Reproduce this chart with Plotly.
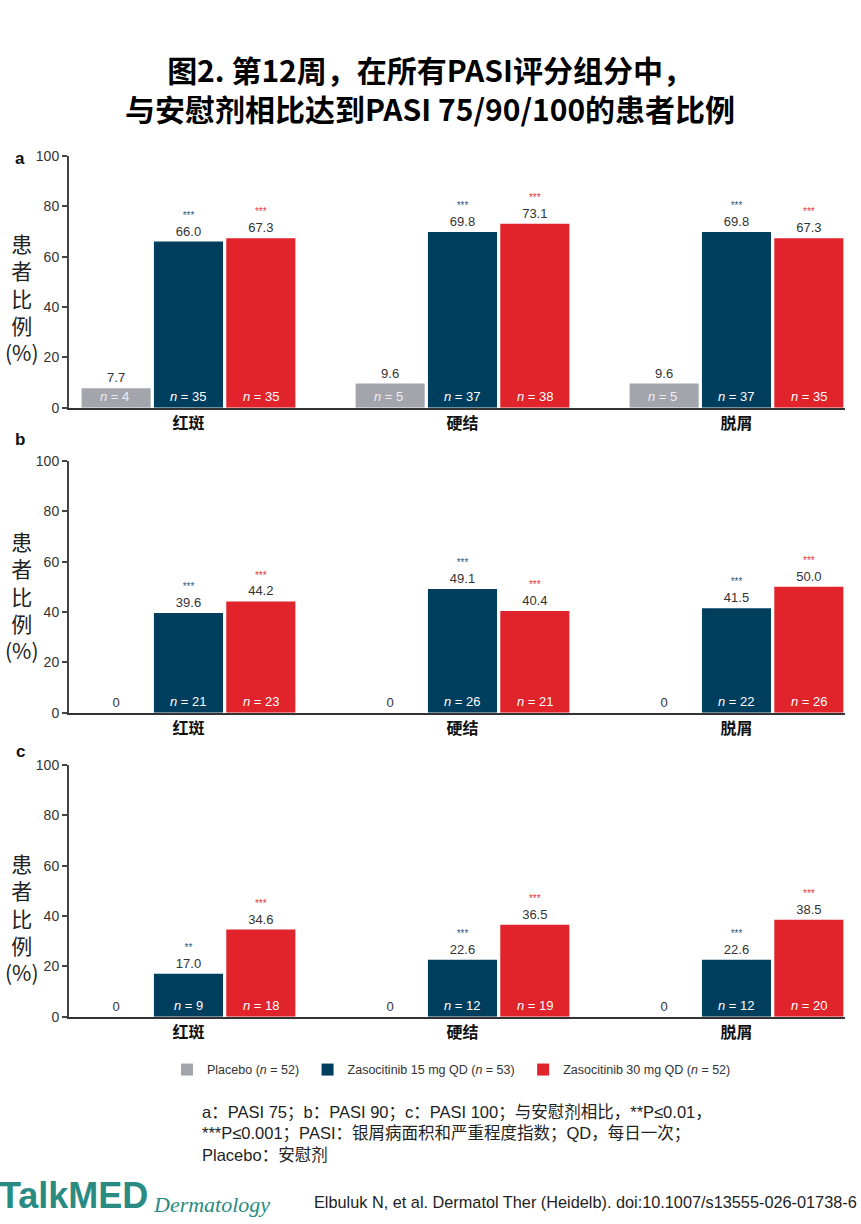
import plotly.graph_objects as go
from plotly.subplots import make_subplots

# data
categories = ["红斑", "硬结", "脱屑"]
groups = ["Placebo", "Zasocitinib 15 mg QD", "Zasocitinib 30 mg QD"]
group_n = [52, 53, 52]

# PASI 75 (panel a)
pasi75_placebo = [7.7, 9.6, 9.6]
pasi75_15mg = [66.0, 69.8, 69.8]
pasi75_30mg = [67.3, 73.1, 67.3]
n75_placebo = [4, 5, 5]
n75_15mg = [35, 37, 37]
n75_30mg = [35, 38, 35]
stars75_15mg = ["***", "***", "***"]
stars75_30mg = ["***", "***", "***"]

# PASI 90 (panel b)
pasi90_placebo = [0, 0, 0]
pasi90_15mg = [39.6, 49.1, 41.5]
pasi90_30mg = [44.2, 40.4, 50.0]
n90_placebo = [0, 0, 0]
n90_15mg = [21, 26, 22]
n90_30mg = [23, 21, 26]
stars90_15mg = ["***", "***", "***"]
stars90_30mg = ["***", "***", "***"]

# PASI 100 (panel c)
pasi100_placebo = [0, 0, 0]
pasi100_15mg = [17.0, 22.6, 22.6]
pasi100_30mg = [34.6, 36.5, 38.5]
n100_placebo = [0, 0, 0]
n100_15mg = [9, 12, 12]
n100_30mg = [18, 19, 20]
stars100_15mg = ["**", "***", "***"]
stars100_30mg = ["***", "***", "***"]

yticks = [0, 20, 40, 60, 80, 100]

panels = [
    ("a", [pasi75_placebo, pasi75_15mg, pasi75_30mg], [n75_placebo, n75_15mg, n75_30mg],
     [None, stars75_15mg, stars75_30mg]),
    ("b", [pasi90_placebo, pasi90_15mg, pasi90_30mg], [n90_placebo, n90_15mg, n90_30mg],
     [None, stars90_15mg, stars90_30mg]),
    ("c", [pasi100_placebo, pasi100_15mg, pasi100_30mg], [n100_placebo, n100_15mg, n100_30mg],
     [None, stars100_15mg, stars100_30mg]),
]

colors = ["#a3a5ac", "#003e5e", "#e1232b"]
star_colors = ["#a3a5ac", "#2d5c82", "#e8343c"]
n_colors = ["#eeeef2", "#ffffff", "#ffffff"]

W, H = 861, 1224
FONT = "Liberation Sans, Arial, Noto Sans CJK SC"
CJK = "Noto Sans CJK SC, Liberation Sans"

# pixel layout of each panel: (top of 100, baseline 0)
panel_px = [(150, 405), (459, 714), (767, 1022)]
ytitle_px = [293, 595, 922]
letter_px = [152, 437, 753]
x_left, x_right = 69, 845


def py(px):
    return 1 - px / H


fig = make_subplots(rows=3, cols=1)
offsets = [-0.27, 0.0, 0.268]

annotations = []
for r, (letter, vals, ns, stars) in enumerate(panels, start=1):
    for g in range(3):
        texts = []
        for i, v in enumerate(vals[g]):
            label = "0" if v == 0 else f"{v:.1f}"
            if stars[g] is not None:
                s = stars[g][i]
                label = f"<span style='font-size:10px;color:{star_colors[g]}'>{s}</span><br>{label}"
            texts.append(label)
        fig.add_trace(go.Bar(
            x=categories, y=vals[g],
            name=f"{groups[g]} (<i>n</i> = {group_n[g]})&nbsp;",
            marker=dict(color=colors[g], line=dict(width=0)),
            text=texts, textposition="outside", cliponaxis=False,
            textfont=dict(size=13, color="#333333", family=FONT),
            legendgroup=groups[g], showlegend=(r == 1),
            hoverinfo="skip",
        ), row=r, col=1)
        for i, nv in enumerate(ns[g]):
            if nv > 0:
                annotations.append(dict(
                    x=i + offsets[g], y=0, xref=f"x{r if r > 1 else ''}", yref=f"y{r if r > 1 else ''}",
                    text=f"<i>n</i> = {nv}", showarrow=False, yanchor="bottom", yshift=2,
                    font=dict(size=13, color=n_colors[g], family=FONT),
                ))
    top, base = panel_px[r - 1]
    fig.update_yaxes(
        domain=[py(base), py(top)], range=[0, 100], tickvals=yticks,
        showline=True, linecolor="#444444", linewidth=2, ticks="outside", ticklen=5,
        tickcolor="#444444", tickwidth=1.5,
        tickfont=dict(size=14, color="#333333", family=FONT),
        showgrid=False, zeroline=False, row=r, col=1)
    fig.update_xaxes(
        domain=[x_left / W, x_right / W], range=[-0.436, 2.396],
        tickvals=categories, ticktext=[f"<b>{c}</b>" for c in categories],
        tickfont=dict(size=16, color="#111111", family=CJK),
        showline=True, linecolor="#333333", linewidth=2, ticks="",
        showgrid=False, zeroline=False, row=r, col=1)
    # panel letter
    annotations.append(dict(
        x=20 / W, y=py(letter_px[r - 1]), xref="paper", yref="paper", text=f"<b>{letter}</b>",
        showarrow=False, xanchor="center", yanchor="middle",
        font=dict(size=17, color="#111111", family=FONT)))
    # stacked y title
    annotations.append(dict(
        x=22 / W, y=py(ytitle_px[r - 1]), xref="paper", yref="paper",
        text="患<br>者<br>比<br>例<br>(%)", showarrow=False, xanchor="center", yanchor="middle",
        font=dict(size=21, color="#222222", family=CJK)))

# title
annotations.append(dict(
    x=430 / W, y=py(82), xref="paper", yref="paper",
    text="<b>图2. 第12周，在所有PASI评分组分中，<br>与安慰剂相比达到PASI 75/90/100的患者比例</b>",
    showarrow=False, xanchor="center", yanchor="middle",
    font=dict(size=30, color="#000000", family=CJK)))

# footnote
annotations.append(dict(
    x=200 / W, y=py(1140), xref="paper", yref="paper", align="left",
    text="a：PASI 75；b：PASI 90；c：PASI 100；与安慰剂相比，**P≤0.01，<br>"
         "***P≤0.001；PASI：银屑病面积和严重程度指数；QD，每日一次；<br>"
         "Placebo：安慰剂",
    showarrow=False, xanchor="left", yanchor="middle",
    font=dict(size=16.5, color="#222222", family=FONT)))

# branding and citation
annotations.append(dict(
    x=0, y=py(1203), xref="paper", yref="paper", text="<b>TalkMED</b>", xshift=-3,
    showarrow=False, xanchor="left", yanchor="middle",
    font=dict(size=36, color="#2a8b82", family="Liberation Sans, Arial")))
annotations.append(dict(
    x=151 / W, y=py(1212), xref="paper", yref="paper", text="<i>Dermatology</i>",
    showarrow=False, xanchor="left", yanchor="middle",
    font=dict(size=22, color="#2a8b82", family="Liberation Serif, DejaVu Serif")))
annotations.append(dict(
    x=859 / W, y=py(1210), xref="paper", yref="paper",
    text="Elbuluk N, et al. Dermatol Ther (Heidelb). doi:10.1007/s13555-026-01738-6",
    showarrow=False, xanchor="right", yanchor="middle",
    font=dict(size=16.3, color="#222222", family=FONT)))

fig.update_layout(
    width=W, height=H, margin=dict(l=0, r=0, t=0, b=0),
    paper_bgcolor="white", plot_bgcolor="white",
    barmode="group", bargap=0.208, bargroupgap=0.045,
    annotations=annotations,
    legend=dict(orientation="h", x=167 / W, y=py(1076), xanchor="left", yanchor="middle",
                font=dict(size=12.5, color="#333333", family=FONT),
                itemwidth=30, tracegroupgap=0),
    font=dict(family=FONT),
)

fig.write_html("out.html", config={"displayModeBar": False},
               post_script="document.body.style.margin='0px';")
